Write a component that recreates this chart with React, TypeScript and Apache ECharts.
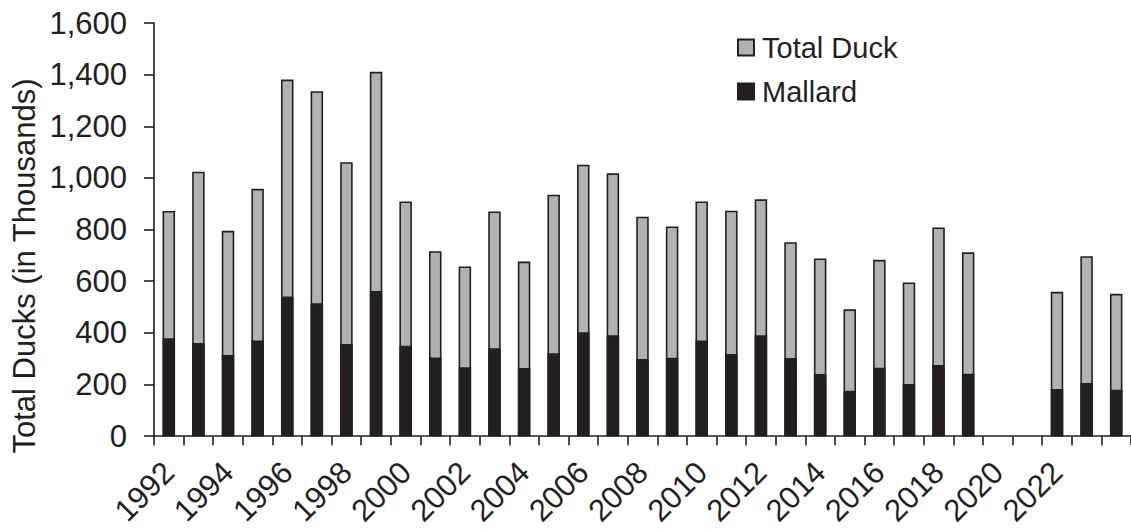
import React, { useEffect, useRef } from "react";
import * as echarts from "echarts";

const years: string[] = [
  "1992", "1993", "1994", "1995", "1996", "1997", "1998", "1999", "2000", "2001",
  "2002", "2003", "2004", "2005", "2006", "2007", "2008", "2009", "2010", "2011",
  "2012", "2013", "2014", "2015", "2016", "2017", "2018", "2019", "2020", "2021",
  "2022", "2023", "2024",
];

const totalDuck: (number | null)[] = [
  872, 1024, 795, 958, 1381, 1336, 1061, 1411, 909, 716,
  657, 870, 676, 935, 1051, 1018, 850, 812, 909, 873,
  917, 751, 688, 491, 683, 595, 808, 712, null, null,
  559, 697, 551,
];

const mallard: (number | null)[] = [
  379, 361, 314, 370, 541, 515, 357, 562, 350, 305,
  267, 340, 264, 321, 402, 391, 299, 304, 370, 318,
  391, 303, 241, 176, 265, 202, 276, 242, null, null,
  183, 206, 180,
];

const yTicks = { min: 0, max: 1600, interval: 200 };

const FONT = "'Liberation Sans', Arial, Helvetica, sans-serif";
const INK = "#231f20";
const GRAY = "#b1b2b4";

export default function App() {
  const ref = useRef<HTMLDivElement>(null);

  useEffect(() => {
    if (!ref.current) return;
    const chart = echarts.init(ref.current, undefined, { renderer: "svg" });
    chart.setOption({
      animation: false,
      backgroundColor: "#ffffff",
      textStyle: { fontFamily: FONT, color: INK },
      grid: { left: 154, top: 23, width: 985, height: 414, containLabel: false },
      legend: {
        orient: "vertical",
        left: 737,
        top: 33,
        padding: 0,
        itemWidth: 16,
        itemHeight: 16,
        itemGap: 15,
        icon: "rect",
        textStyle: { fontFamily: FONT, fontSize: 29, color: INK, padding: [0, 0, 0, 3] },
        data: ["Total Duck", "Mallard"],
      },
      xAxis: {
        type: "category",
        data: years,
        boundaryGap: true,
        axisLine: { show: true, lineStyle: { color: INK, width: 1.6 } },
        axisTick: { show: true, alignWithLabel: false, interval: 0, length: 9, lineStyle: { color: INK, width: 1.6 } },
        axisLabel: {
          interval: (i: number) => i % 2 === 0 && i < 32,
          rotate: 45,
          margin: 31,
          fontFamily: FONT,
          fontSize: 31,
          color: INK,
        },
        splitLine: { show: false },
      },
      yAxis: {
        type: "value",
        min: yTicks.min,
        max: yTicks.max,
        interval: yTicks.interval,
        axisLine: { show: true, lineStyle: { color: INK, width: 1.6 } },
        axisTick: { show: true, length: 10, lineStyle: { color: INK, width: 1.6 } },
        splitLine: { show: false },
        axisLabel: {
          margin: 27,
          fontFamily: FONT,
          fontSize: 31,
          color: INK,
          formatter: (v: number) => v.toLocaleString("en-US"),
        },
      },
      graphic: [
        {
          type: "text",
          x: 24,
          y: 266,
          rotation: Math.PI / 2,
          style: {
            text: "Total Ducks (in Thousands)",
            font: `31px ${FONT}`,
            fill: INK,
            textAlign: "center",
            textVerticalAlign: "middle",
          },
        },
      ],
      series: [
        {
          name: "Total Duck",
          type: "bar",
          data: totalDuck,
          barWidth: 12.5,
          barGap: "-100%",
          itemStyle: { color: GRAY, borderColor: INK, borderWidth: 1.6 },
        },
        {
          name: "Mallard",
          type: "bar",
          data: mallard,
          barWidth: 12.5,
          barGap: "-100%",
          itemStyle: { color: INK, borderColor: INK, borderWidth: 1.6 },
        },
      ],
    });
    return () => chart.dispose();
  }, []);

  return (
    <div
      ref={ref}
      style={{ position: "absolute", left: 0, top: 0, width: 1131, height: 529 }}
    />
  );
}
